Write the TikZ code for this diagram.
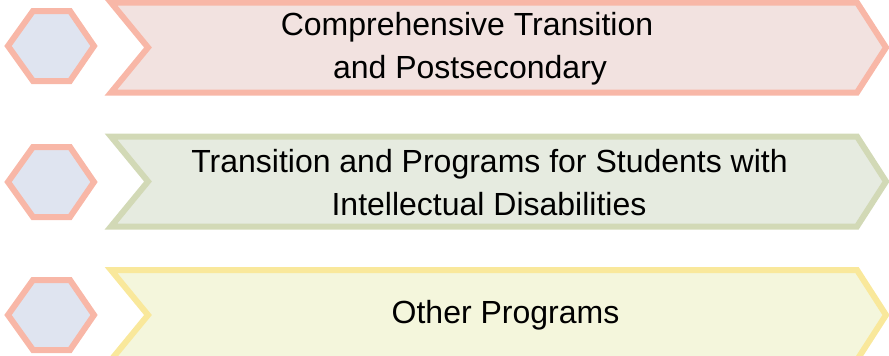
\documentclass[tikz,border=0pt]{standalone}
\usepackage{fontspec}
\setmainfont{Liberation Sans}
\definecolor{pinkline}{HTML}{F8B7A7}
\definecolor{pinkfill}{HTML}{F2E2E0}
\definecolor{hexfill}{HTML}{DFE4F0}
\definecolor{greenline}{HTML}{D2D9B6}
\definecolor{greenfill}{HTML}{E6EBE0}
\definecolor{yellowline}{HTML}{F9E89B}
\definecolor{yellowfill}{HTML}{F4F6DC}
\tikzset{
  hexa/.style={draw=pinkline, fill=hexfill, line width=6pt, line join=miter},
  chev/.style={line width=6pt, line join=miter},
  lbl/.style={anchor=base, inner sep=0pt, font=\fontsize{32}{43}\selectfont, text=black}
}
\newcommand{\hexat}[1]{(8,#1) -- (33,#1-35) -- (70,#1-35) -- (94,#1) -- (70,#1+35) -- (33,#1+35) -- cycle}
\newcommand{\chevat}[1]{(111,#1-45) -- (857,#1-45) -- (886,#1) -- (857,#1+45) -- (111,#1+45) -- (148,#1) -- cycle}
\begin{document}
\begin{tikzpicture}[x=1pt,y=-1pt]
\useasboundingbox (0,0) rectangle (889,356);
% hexagons
\draw[hexa] \hexat{46};
\draw[hexa] \hexat{182};
\draw[hexa] \hexat{315};
% chevrons
\draw[chev, draw=pinkline, fill=pinkfill] \chevat{47.5};
\draw[chev, draw=greenline, fill=greenfill] \chevat{181.5};
\draw[chev, draw=yellowline, fill=yellowfill] \chevat{315};
% labels
\node[lbl] (t1a) at (467,35) {Comprehensive Transition};
\node[lbl] (t1b) at (470,78) {and Postsecondary};
\node[lbl] (t2a) at (489.5,172) {Transition and Programs for Students with};
\node[lbl] (t2b) at (489,215) {Intellectual Disabilities};
\node[lbl] (t3) at (505.5,323) {Other Programs};
\end{tikzpicture}
\end{document}
